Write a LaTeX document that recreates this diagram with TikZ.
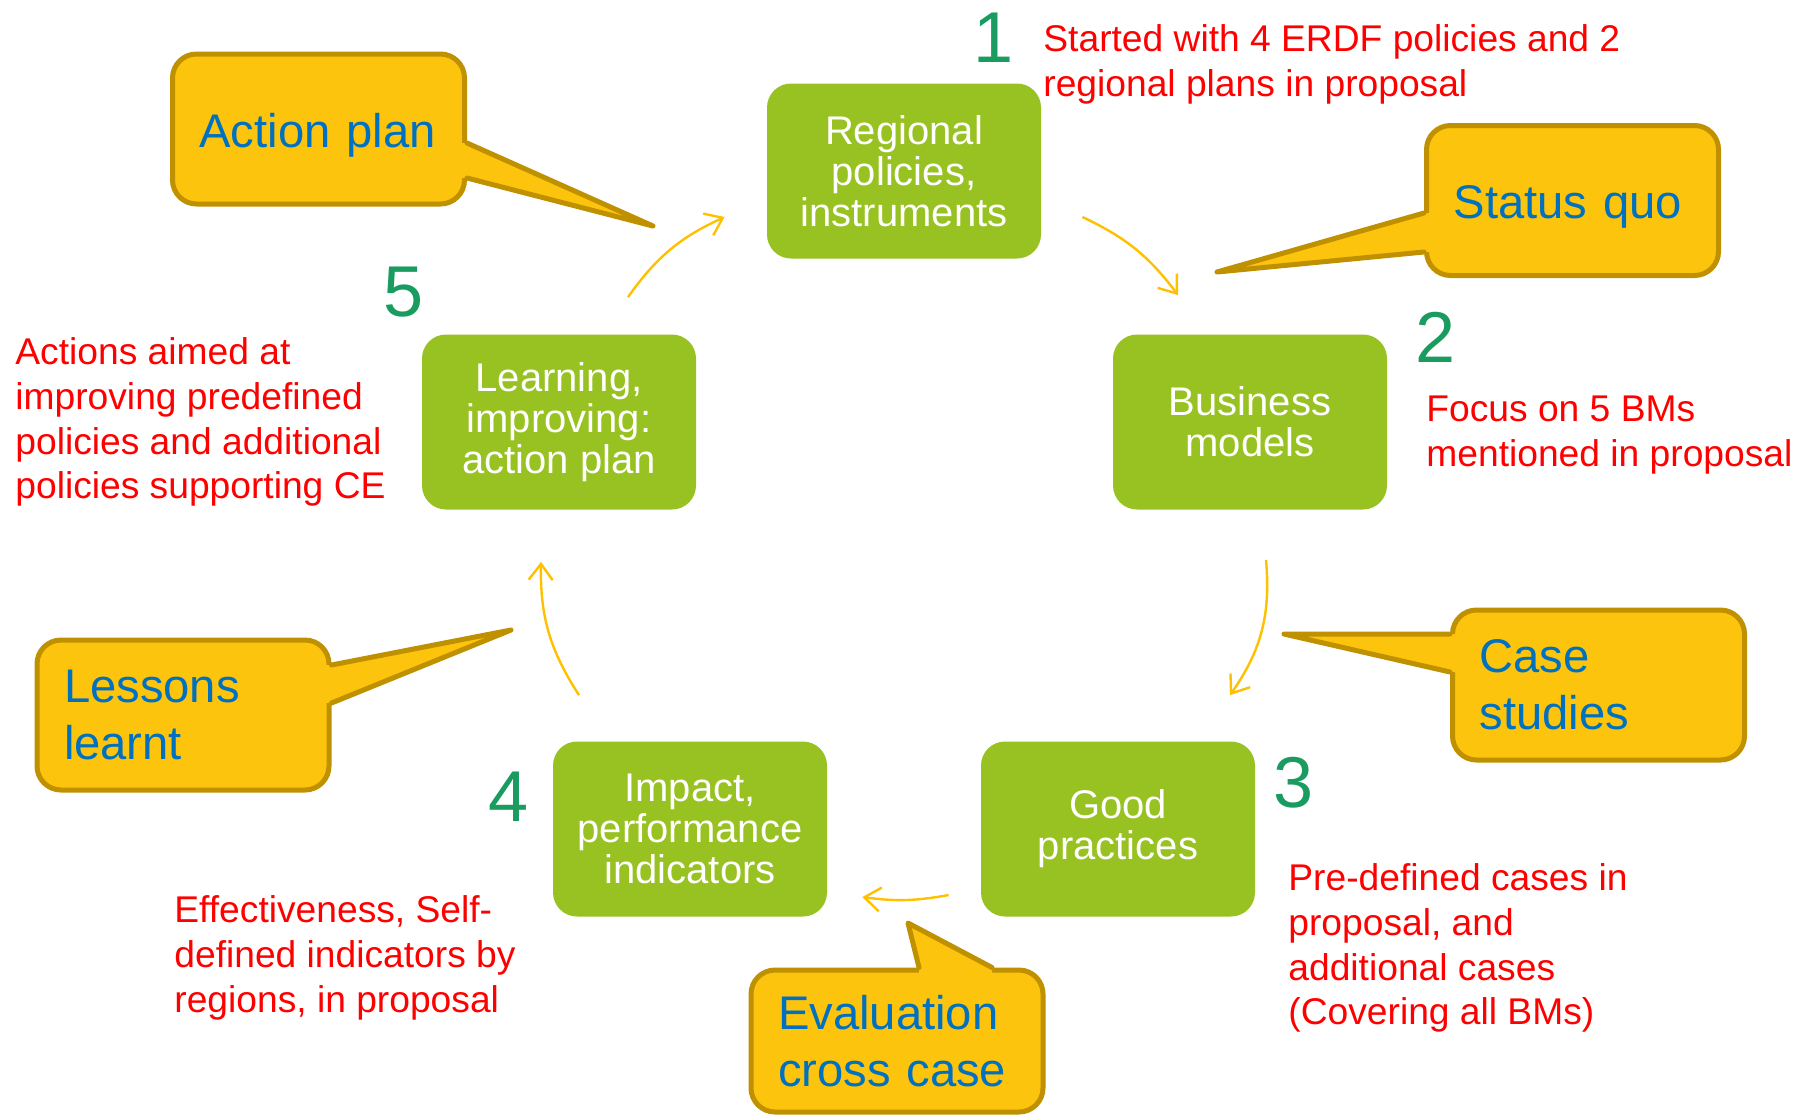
\documentclass[tikz,border=0pt]{standalone}
\usepackage{fontspec}
\setmainfont{Liberation Sans}
\usetikzlibrary{arrows.meta}

\definecolor{stagegreen}{RGB}{152,193,34}
\definecolor{numgreen}{RGB}{26,155,95}
\definecolor{notered}{RGB}{255,0,0}
\definecolor{bubblefill}{RGB}{252,196,12}
\definecolor{bubbleedge}{RGB}{191,144,0}
\definecolor{bubbletext}{RGB}{0,112,192}
\definecolor{arrowgold}{RGB}{255,192,0}

\tikzset{
    stage/.style={rectangle, rounded corners=12pt, fill=stagegreen, text=white,
        minimum width=137pt, minimum height=87.5pt, align=center,
        font=\fontsize{20}{20.5}\selectfont},
    cyc/.style={draw=arrowgold, line width=1.2pt, -{Straight Barb[length=8pt,width=12pt]}},
    note/.style={text=notered, align=left, inner sep=0pt, anchor=west,
        font=\fontsize{18.6}{22.4}\selectfont},
    num/.style={text=numgreen, inner sep=0pt, font=\fontsize{36}{36}\selectfont},
    bubble/.style={rectangle, rounded corners=12pt, draw=bubbleedge, fill=bubblefill,
        line width=2.5pt, text=bubbletext, text width=119pt, inner xsep=13.5pt,
        minimum height=75pt, align=left, font=\fontsize{23.6}{28.6}\selectfont},
    oneline/.style={text height=23pt, text depth=5pt},
    tail/.style={fill=bubblefill},
    tailedge/.style={draw=bubbleedge, line width=2.5pt, line join=round, line cap=round}
}

\begin{document}
\begin{tikzpicture}[x=0.5pt, y=-0.5pt]
    \useasboundingbox (0,0) rectangle (1797,1115);

    \node[stage] (reg) at (904,171) {Regional\\policies,\\instruments};
    \node[stage] (bus) at (1250,422) {Business\\models};
    \node[stage] (good) at (1118,829) {Good\\practices};
    \node[stage] (imp) at (690,829) {Impact,\\performance\\indicators};
    \node[stage] (learn) at (559,422) {Learning,\\improving:\\action plan};

    \draw[cyc] ([shift={(41,46)}]reg.east) to[bend left=14] ([shift={(-72,-39)}]bus.north);
    \draw[cyc] ([shift={(16,50)}]bus.south) to[bend left=20] ([shift={(112,-46)}]good.north);
    \draw[cyc] ([shift={(-32,66)}]good.west) to[bend left=9] ([shift={(35,68)}]imp.east);
    \draw[cyc] ([shift={(-111,-46)}]imp.north) to[bend left=17] ([shift={(-18,52)}]learn.south);
    \draw[cyc] ([shift={(69,-37)}]learn.north) to[bend left=15] ([shift={(-42,46)}]reg.west);

    \node[num] (n1) at (994,38) {1};
    \node[num] (n2) at (1435,337) {2};
    \node[num] (n3) at (1293,783) {3};
    \node[num] (n4) at (509,797) {4};
    \node[num] (n5) at (404,292) {5};

    \node[note] (t1) at (1043,64) {Started with 4 ERDF policies and 2\\regional plans in proposal};
    \node[note] (t2) at (1426,435) {Focus on 5 BMs\\mentioned in proposal};
    \node[note] (t3) at (1288,948) {Pre-defined cases in\\proposal, and\\additional cases\\(Covering all BMs)};
    \node[note] (t4) at (174,958) {Effectiveness, Self-\\defined indicators by\\regions, in proposal};
    \node[note] (t5) at (15,422) {Actions aimed at\\improving predefined\\policies and additional\\policies supporting CE};

    \node[bubble, oneline] (ap) at (318.5,129) {Action plan};
    \coordinate (aptip) at (653,226);
    \fill[tail] ([shift={(-6,14)}]ap.east) -- ([shift={(0,14)}]ap.east) -- (aptip)
        -- ([shift={(0,49)}]ap.east) -- ([shift={(-6,49)}]ap.east) -- cycle;
    \draw[tailedge] ([shift={(0,14)}]ap.east) -- (aptip) -- ([shift={(0,49)}]ap.east);

    \node[bubble, oneline] (sq) at (1572.5,200.5) {Status quo};
    \coordinate (sqtip) at (1217,272);
    \fill[tail] ([shift={(6,12.5)}]sq.west) -- ([shift={(0,12.5)}]sq.west) -- (sqtip)
        -- ([shift={(0,51.5)}]sq.west) -- ([shift={(6,51.5)}]sq.west) -- cycle;
    \draw[tailedge] ([shift={(0,12.5)}]sq.west) -- (sqtip) -- ([shift={(0,51.5)}]sq.west);

    \node[bubble] (cs) at (1598.5,685) {Case\\studies};
    \coordinate (cstip) at (1284,634);
    \fill[tail] ([shift={(6,-51)}]cs.west) -- ([shift={(0,-51)}]cs.west) -- (cstip)
        -- ([shift={(0,-13)}]cs.west) -- ([shift={(6,-13)}]cs.west) -- cycle;
    \draw[tailedge] ([shift={(0,-51)}]cs.west) -- (cstip) -- ([shift={(0,-13)}]cs.west);

    \node[bubble] (ll) at (183,715) {Lessons\\learnt};
    \coordinate (lltip) at (511,630);
    \fill[tail] ([shift={(-6,-50)}]ll.east) -- ([shift={(0,-50)}]ll.east) -- (lltip)
        -- ([shift={(0,-12)}]ll.east) -- ([shift={(-6,-12)}]ll.east) -- cycle;
    \draw[tailedge] ([shift={(0,-50)}]ll.east) -- (lltip) -- ([shift={(0,-12)}]ll.east);

    \node[bubble, minimum height=71pt] (ev) at (897,1041) {Evaluation\\cross case};
    \coordinate (evtip) at (908,923);
    \fill[tail] ([shift={(22,6)}]ev.north) -- ([shift={(22,0)}]ev.north) -- (evtip)
        -- ([shift={(95,0)}]ev.north) -- ([shift={(95,6)}]ev.north) -- cycle;
    \draw[tailedge] ([shift={(22,0)}]ev.north) -- (evtip) -- ([shift={(95,0)}]ev.north);
\end{tikzpicture}
\end{document}
